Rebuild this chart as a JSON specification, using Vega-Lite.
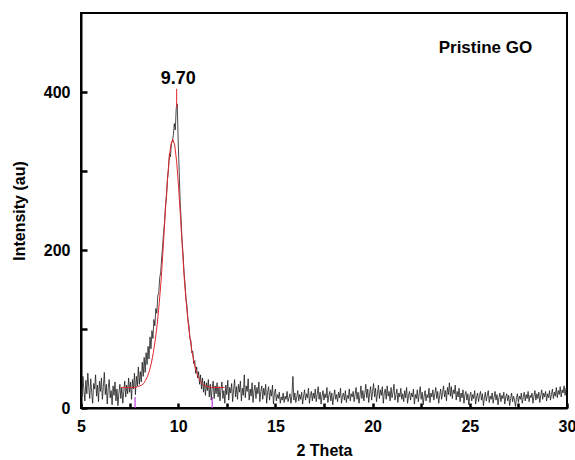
{
"$schema":"https://vega.github.io/schema/vega-lite/v6.json",
"width":486,"height":395,
"autosize":{"type":"none"},
"padding":{"left":81,"top":13,"right":8,"bottom":52},
"background":"white",
"config":{"font":"Liberation Sans","view":{"stroke":"black","strokeWidth":2}},
"datasets":{
"xrd":[
{"x":5.00,"y":28},{"x":5.05,"y":14},{"x":5.10,"y":40},{"x":5.15,"y":22},{"x":5.20,"y":9},{"x":5.25,"y":35},{"x":5.30,"y":18},{"x":5.35,"y":44},{"x":5.40,"y":26},{"x":5.45,"y":12},
{"x":5.50,"y":37},{"x":5.55,"y":20},{"x":5.60,"y":6},{"x":5.65,"y":31},{"x":5.70,"y":24},{"x":5.75,"y":42},{"x":5.80,"y":15},{"x":5.85,"y":29},{"x":5.90,"y":8},{"x":5.95,"y":34},
{"x":6.00,"y":21},{"x":6.05,"y":38},{"x":6.10,"y":11},{"x":6.15,"y":27},{"x":6.20,"y":45},{"x":6.25,"y":17},{"x":6.30,"y":30},{"x":6.35,"y":5},{"x":6.40,"y":25},{"x":6.45,"y":36},
{"x":6.50,"y":13},{"x":6.55,"y":22},{"x":6.60,"y":4},{"x":6.65,"y":28},{"x":6.70,"y":16},{"x":6.75,"y":33},{"x":6.80,"y":9},{"x":6.85,"y":24},{"x":6.90,"y":3},{"x":6.95,"y":19},
{"x":7.00,"y":30},{"x":7.05,"y":12},{"x":7.10,"y":26},{"x":7.15,"y":6},{"x":7.20,"y":21},{"x":7.25,"y":34},{"x":7.30,"y":14},{"x":7.35,"y":29},{"x":7.40,"y":18},{"x":7.45,"y":38},
{"x":7.50,"y":20},{"x":7.55,"y":33},{"x":7.60,"y":11},{"x":7.65,"y":36},{"x":7.70,"y":24},{"x":7.75,"y":44},{"x":7.80,"y":17},{"x":7.85,"y":40},{"x":7.90,"y":28},{"x":7.95,"y":52},
{"x":8.00,"y":30},{"x":8.05,"y":46},{"x":8.10,"y":33},{"x":8.15,"y":58},{"x":8.20,"y":40},{"x":8.25,"y":64},{"x":8.30,"y":45},{"x":8.35,"y":70},{"x":8.40,"y":55},{"x":8.45,"y":78},
{"x":8.50,"y":62},{"x":8.55,"y":90},{"x":8.60,"y":75},{"x":8.65,"y":98},{"x":8.70,"y":88},{"x":8.75,"y":112},{"x":8.80,"y":104},{"x":8.85,"y":126},{"x":8.90,"y":120},{"x":8.95,"y":142},
{"x":9.00,"y":146},{"x":9.05,"y":165},{"x":9.10,"y":172},{"x":9.15,"y":190},{"x":9.20,"y":205},{"x":9.25,"y":222},{"x":9.30,"y":236},{"x":9.35,"y":258},{"x":9.40,"y":268},{"x":9.45,"y":290},
{"x":9.50,"y":302},{"x":9.55,"y":322},{"x":9.60,"y":318},{"x":9.65,"y":335},{"x":9.70,"y":338},{"x":9.75,"y":345},{"x":9.80,"y":360},{"x":9.85,"y":352},{"x":9.90,"y":380},{"x":9.95,"y":385},
{"x":10.00,"y":338},{"x":10.05,"y":300},{"x":10.10,"y":262},{"x":10.15,"y":238},{"x":10.20,"y":212},{"x":10.25,"y":195},{"x":10.30,"y":172},{"x":10.35,"y":158},{"x":10.40,"y":138},{"x":10.45,"y":130},
{"x":10.50,"y":112},{"x":10.55,"y":105},{"x":10.60,"y":88},{"x":10.65,"y":86},{"x":10.70,"y":70},{"x":10.75,"y":72},{"x":10.80,"y":56},{"x":10.85,"y":60},{"x":10.90,"y":44},{"x":10.95,"y":52},
{"x":11.00,"y":38},{"x":11.05,"y":46},{"x":11.10,"y":30},{"x":11.15,"y":42},{"x":11.20,"y":24},{"x":11.25,"y":38},{"x":11.30,"y":20},{"x":11.35,"y":34},{"x":11.40,"y":16},{"x":11.45,"y":32},
{"x":11.50,"y":22},{"x":11.55,"y":36},{"x":11.60,"y":14},{"x":11.65,"y":30},{"x":11.70,"y":10},{"x":11.75,"y":26},{"x":11.80,"y":34},{"x":11.85,"y":12},{"x":11.90,"y":28},{"x":11.95,"y":18},
{"x":12.00,"y":32},{"x":12.05,"y":14},{"x":12.10,"y":27},{"x":12.15,"y":9},{"x":12.20,"y":24},{"x":12.25,"y":33},{"x":12.30,"y":12},{"x":12.35,"y":22},{"x":12.40,"y":6},{"x":12.45,"y":29},
{"x":12.50,"y":17},{"x":12.55,"y":35},{"x":12.60,"y":10},{"x":12.65,"y":26},{"x":12.70,"y":19},{"x":12.75,"y":31},{"x":12.80,"y":8},{"x":12.85,"y":23},{"x":12.90,"y":36},{"x":12.95,"y":14},
{"x":13.00,"y":27},{"x":13.05,"y":11},{"x":13.10,"y":30},{"x":13.15,"y":20},{"x":13.20,"y":34},{"x":13.25,"y":9},{"x":13.30,"y":25},{"x":13.35,"y":16},{"x":13.40,"y":42},{"x":13.45,"y":13},
{"x":13.50,"y":28},{"x":13.55,"y":21},{"x":13.60,"y":37},{"x":13.65,"y":10},{"x":13.70,"y":24},{"x":13.75,"y":15},{"x":13.80,"y":32},{"x":13.85,"y":7},{"x":13.90,"y":22},{"x":13.95,"y":29},
{"x":14.00,"y":12},{"x":14.05,"y":26},{"x":14.10,"y":18},{"x":14.15,"y":33},{"x":14.20,"y":8},{"x":14.25,"y":21},{"x":14.30,"y":28},{"x":14.35,"y":11},{"x":14.40,"y":25},{"x":14.45,"y":16},
{"x":14.50,"y":30},{"x":14.55,"y":6},{"x":14.60,"y":20},{"x":14.65,"y":27},{"x":14.70,"y":10},{"x":14.75,"y":23},{"x":14.80,"y":15},{"x":14.85,"y":29},{"x":14.90,"y":5},{"x":14.95,"y":18},
{"x":15.00,"y":24},{"x":15.05,"y":9},{"x":15.10,"y":17},{"x":15.15,"y":12},{"x":15.20,"y":20},{"x":15.25,"y":6},{"x":15.30,"y":14},{"x":15.35,"y":10},{"x":15.40,"y":19},{"x":15.45,"y":7},
{"x":15.50,"y":15},{"x":15.55,"y":11},{"x":15.60,"y":21},{"x":15.65,"y":8},{"x":15.70,"y":13},{"x":15.75,"y":18},{"x":15.80,"y":6},{"x":15.85,"y":16},{"x":15.90,"y":40},{"x":15.95,"y":10},
{"x":16.00,"y":19},{"x":16.05,"y":7},{"x":16.10,"y":14},{"x":16.15,"y":22},{"x":16.20,"y":9},{"x":16.25,"y":17},{"x":16.30,"y":11},{"x":16.35,"y":20},{"x":16.40,"y":5},{"x":16.45,"y":15},
{"x":16.50,"y":23},{"x":16.55,"y":10},{"x":16.60,"y":18},{"x":16.65,"y":13},{"x":16.70,"y":25},{"x":16.75,"y":6},{"x":16.80,"y":16},{"x":16.85,"y":21},{"x":16.90,"y":9},{"x":16.95,"y":19},
{"x":17.00,"y":12},{"x":17.05,"y":24},{"x":17.10,"y":8},{"x":17.15,"y":17},{"x":17.20,"y":27},{"x":17.25,"y":11},{"x":17.30,"y":20},{"x":17.35,"y":5},{"x":17.40,"y":15},{"x":17.45,"y":22},
{"x":17.50,"y":10},{"x":17.55,"y":18},{"x":17.60,"y":13},{"x":17.65,"y":26},{"x":17.70,"y":7},{"x":17.75,"y":16},{"x":17.80,"y":21},{"x":17.85,"y":9},{"x":17.90,"y":19},{"x":17.95,"y":4},
{"x":18.00,"y":14},{"x":18.05,"y":23},{"x":18.10,"y":11},{"x":18.15,"y":17},{"x":18.20,"y":8},{"x":18.25,"y":20},{"x":18.30,"y":13},{"x":18.35,"y":25},{"x":18.40,"y":6},{"x":18.45,"y":15},
{"x":18.50,"y":19},{"x":18.55,"y":10},{"x":18.60,"y":22},{"x":18.65,"y":7},{"x":18.70,"y":16},{"x":18.75,"y":12},{"x":18.80,"y":24},{"x":18.85,"y":9},{"x":18.90,"y":18},{"x":18.95,"y":14},
{"x":19.00,"y":21},{"x":19.05,"y":8},{"x":19.10,"y":17},{"x":19.15,"y":26},{"x":19.20,"y":11},{"x":19.25,"y":20},{"x":19.30,"y":6},{"x":19.35,"y":15},{"x":19.40,"y":28},{"x":19.45,"y":12},
{"x":19.50,"y":22},{"x":19.55,"y":9},{"x":19.60,"y":18},{"x":19.65,"y":30},{"x":19.70,"y":13},{"x":19.75,"y":24},{"x":19.80,"y":7},{"x":19.85,"y":19},{"x":19.90,"y":27},{"x":19.95,"y":10},
{"x":20.00,"y":21},{"x":20.05,"y":31},{"x":20.10,"y":14},{"x":20.15,"y":25},{"x":20.20,"y":8},{"x":20.25,"y":18},{"x":20.30,"y":29},{"x":20.35,"y":12},{"x":20.40,"y":23},{"x":20.45,"y":16},
{"x":20.50,"y":27},{"x":20.55,"y":6},{"x":20.60,"y":19},{"x":20.65,"y":24},{"x":20.70,"y":11},{"x":20.75,"y":28},{"x":20.80,"y":15},{"x":20.85,"y":21},{"x":20.90,"y":9},{"x":20.95,"y":26},
{"x":21.00,"y":13},{"x":21.05,"y":20},{"x":21.10,"y":30},{"x":21.15,"y":10},{"x":21.20,"y":17},{"x":21.25,"y":24},{"x":21.30,"y":7},{"x":21.35,"y":19},{"x":21.40,"y":14},{"x":21.45,"y":25},
{"x":21.50,"y":11},{"x":21.55,"y":18},{"x":21.60,"y":8},{"x":21.65,"y":22},{"x":21.70,"y":13},{"x":21.75,"y":26},{"x":21.80,"y":6},{"x":21.85,"y":16},{"x":21.90,"y":21},{"x":21.95,"y":10},
{"x":22.00,"y":19},{"x":22.05,"y":14},{"x":22.10,"y":24},{"x":22.15,"y":5},{"x":22.20,"y":17},{"x":22.25,"y":12},{"x":22.30,"y":23},{"x":22.35,"y":8},{"x":22.40,"y":18},{"x":22.45,"y":27},
{"x":22.50,"y":11},{"x":22.55,"y":20},{"x":22.60,"y":4},{"x":22.65,"y":15},{"x":22.70,"y":22},{"x":22.75,"y":9},{"x":22.80,"y":17},{"x":22.85,"y":13},{"x":22.90,"y":25},{"x":22.95,"y":7},
{"x":23.00,"y":19},{"x":23.05,"y":14},{"x":23.10,"y":23},{"x":23.15,"y":10},{"x":23.20,"y":18},{"x":23.25,"y":26},{"x":23.30,"y":12},{"x":23.35,"y":21},{"x":23.40,"y":6},{"x":23.45,"y":16},
{"x":23.50,"y":24},{"x":23.55,"y":11},{"x":23.60,"y":20},{"x":23.65,"y":28},{"x":23.70,"y":14},{"x":23.75,"y":22},{"x":23.80,"y":9},{"x":23.85,"y":26},{"x":23.90,"y":17},{"x":23.95,"y":32},
{"x":24.00,"y":15},{"x":24.05,"y":27},{"x":24.10,"y":12},{"x":24.15,"y":23},{"x":24.20,"y":18},{"x":24.25,"y":29},{"x":24.30,"y":10},{"x":24.35,"y":21},{"x":24.40,"y":14},{"x":24.45,"y":25},
{"x":24.50,"y":8},{"x":24.55,"y":19},{"x":24.60,"y":13},{"x":24.65,"y":23},{"x":24.70,"y":6},{"x":24.75,"y":17},{"x":24.80,"y":21},{"x":24.85,"y":10},{"x":24.90,"y":18},{"x":24.95,"y":4},
{"x":25.00,"y":15},{"x":25.05,"y":20},{"x":25.10,"y":9},{"x":25.15,"y":17},{"x":25.20,"y":12},{"x":25.25,"y":22},{"x":25.30,"y":5},{"x":25.35,"y":14},{"x":25.40,"y":19},{"x":25.45,"y":8},
{"x":25.50,"y":16},{"x":25.55,"y":21},{"x":25.60,"y":10},{"x":25.65,"y":18},{"x":25.70,"y":3},{"x":25.75,"y":13},{"x":25.80,"y":20},{"x":25.85,"y":9},{"x":25.90,"y":16},{"x":25.95,"y":22},
{"x":26.00,"y":7},{"x":26.05,"y":15},{"x":26.10,"y":11},{"x":26.15,"y":19},{"x":26.20,"y":6},{"x":26.25,"y":14},{"x":26.30,"y":21},{"x":26.35,"y":10},{"x":26.40,"y":17},{"x":26.45,"y":4},
{"x":26.50,"y":13},{"x":26.55,"y":19},{"x":26.60,"y":8},{"x":26.65,"y":16},{"x":26.70,"y":12},{"x":26.75,"y":20},{"x":26.80,"y":5},{"x":26.85,"y":14},{"x":26.90,"y":18},{"x":26.95,"y":9},
{"x":27.00,"y":16},{"x":27.05,"y":3},{"x":27.10,"y":12},{"x":27.15,"y":19},{"x":27.20,"y":8},{"x":27.25,"y":15},{"x":27.30,"y":10},{"x":27.35,"y":2},{"x":27.40,"y":13},{"x":27.45,"y":18},
{"x":27.50,"y":7},{"x":27.55,"y":15},{"x":27.60,"y":11},{"x":27.65,"y":19},{"x":27.70,"y":6},{"x":27.75,"y":14},{"x":27.80,"y":20},{"x":27.85,"y":9},{"x":27.90,"y":17},{"x":27.95,"y":12},
{"x":28.00,"y":21},{"x":28.05,"y":8},{"x":28.10,"y":16},{"x":28.15,"y":13},{"x":28.20,"y":19},{"x":28.25,"y":6},{"x":28.30,"y":15},{"x":28.35,"y":22},{"x":28.40,"y":10},{"x":28.45,"y":18},
{"x":28.50,"y":12},{"x":28.55,"y":20},{"x":28.60,"y":7},{"x":28.65,"y":16},{"x":28.70,"y":23},{"x":28.75,"y":11},{"x":28.80,"y":19},{"x":28.85,"y":14},{"x":28.90,"y":21},{"x":28.95,"y":9},
{"x":29.00,"y":18},{"x":29.05,"y":13},{"x":29.10,"y":22},{"x":29.15,"y":10},{"x":29.20,"y":17},{"x":29.25,"y":24},{"x":29.30,"y":12},{"x":29.35,"y":20},{"x":29.40,"y":15},{"x":29.45,"y":26},
{"x":29.50,"y":13},{"x":29.55,"y":22},{"x":29.60,"y":17},{"x":29.65,"y":27},{"x":29.70,"y":14},{"x":29.75,"y":23},{"x":29.80,"y":19},{"x":29.85,"y":28},{"x":29.90,"y":16},{"x":29.95,"y":25},
{"x":30.00,"y":20}
],
"fit":[
{"x":7.06,"y":26},{"x":7.72,"y":26},{"x":7.92,"y":27},{"x":8.12,"y":29},{"x":8.22,"y":31},{"x":8.32,"y":35},{"x":8.42,"y":40},{"x":8.52,"y":47},{"x":8.62,"y":57},{"x":8.72,"y":70},
{"x":8.82,"y":86},{"x":8.92,"y":106},{"x":9.02,"y":132},{"x":9.12,"y":161},{"x":9.22,"y":200},{"x":9.32,"y":241},{"x":9.42,"y":280},{"x":9.52,"y":312},{"x":9.62,"y":333},{"x":9.72,"y":340},
{"x":9.82,"y":333},{"x":9.92,"y":312},{"x":10.02,"y":280},{"x":10.12,"y":241},{"x":10.22,"y":200},{"x":10.32,"y":161},{"x":10.42,"y":132},{"x":10.52,"y":106},{"x":10.62,"y":86},{"x":10.72,"y":70},
{"x":10.82,"y":57},{"x":10.92,"y":47},{"x":11.02,"y":40},{"x":11.12,"y":35},{"x":11.22,"y":31},{"x":11.32,"y":29},{"x":11.52,"y":27},{"x":11.72,"y":26},{"x":12.39,"y":26}
],
"limits":[{"x":7.78,"y":0,"y2":14},{"x":11.75,"y":0,"y2":14}],
"peak":[{"x":9.92,"y":380,"y2":404}],
"peaklabel":[{"x":10.0,"y":416,"text":"9.70"}],
"sample":[{"x":23.4,"y":456,"text":"Pristine GO"}]
},
"layer":[
{"data":{"name":"xrd"},"mark":{"type":"line","color":"#1c1c1c","strokeWidth":0.8,"clip":true},
"encoding":{
"x":{"field":"x","type":"quantitative","scale":{"domain":[5,30],"nice":false,"zero":false},
"axis":{"title":"2 Theta","values":[5,7.5,10,12.5,15,17.5,20,22.5,25,27.5,30],"labelExpr":"datum.value % 5 === 0 ? datum.label : ''","grid":false,"tickSize":-5,"tickWidth":2.5,"tickColor":"black","domainColor":"black","domainWidth":2,"labelFont":"Liberation Sans","labelFontWeight":"bold","labelFontSize":16,"labelColor":"black","labelPadding":15,"labelFlush":false,"labelOverlap":false,"titleFont":"Liberation Sans","titleFontSize":16,"titleFontWeight":"bold","titleColor":"black","titlePadding":8}},
"y":{"field":"y","type":"quantitative","scale":{"domain":[0,500],"nice":false},
"axis":{"title":"Intensity (au)","values":[0,100,200,300,400],"labelExpr":"datum.value % 200 === 0 ? datum.label : ''","grid":false,"tickSize":-6,"tickWidth":2.5,"tickColor":"black","domainColor":"black","domainWidth":2,"labelFont":"Liberation Sans","labelFontWeight":"bold","labelFontSize":16,"labelColor":"black","labelPadding":17,"labelFlush":false,"labelOverlap":false,"titleFont":"Liberation Sans","titleFontSize":16,"titleFontWeight":"bold","titleColor":"black","titlePadding":16}}
}},
{"data":{"name":"fit"},"mark":{"type":"line","color":"#e3262b","strokeWidth":1},
"encoding":{"x":{"field":"x","type":"quantitative"},"y":{"field":"y","type":"quantitative"}}},
{"data":{"name":"limits"},"mark":{"type":"rule","color":"#c03cdc","strokeWidth":1.2},
"encoding":{"x":{"field":"x","type":"quantitative"},"y":{"field":"y","type":"quantitative"},"y2":{"field":"y2"}}},
{"data":{"name":"peak"},"mark":{"type":"rule","color":"#e3262b","strokeWidth":1},
"encoding":{"x":{"field":"x","type":"quantitative"},"y":{"field":"y","type":"quantitative"},"y2":{"field":"y2"}}},
{"data":{"name":"peaklabel"},"mark":{"type":"text","font":"Liberation Sans","fontWeight":"bold","fontSize":18,"color":"black","align":"center","baseline":"middle"},
"encoding":{"x":{"field":"x","type":"quantitative"},"y":{"field":"y","type":"quantitative"},"text":{"field":"text"}}},
{"data":{"name":"sample"},"mark":{"type":"text","font":"Liberation Sans","fontWeight":"bold","fontSize":17,"color":"black","align":"left","baseline":"middle"},
"encoding":{"x":{"field":"x","type":"quantitative"},"y":{"field":"y","type":"quantitative"},"text":{"field":"text"}}}
]
}
